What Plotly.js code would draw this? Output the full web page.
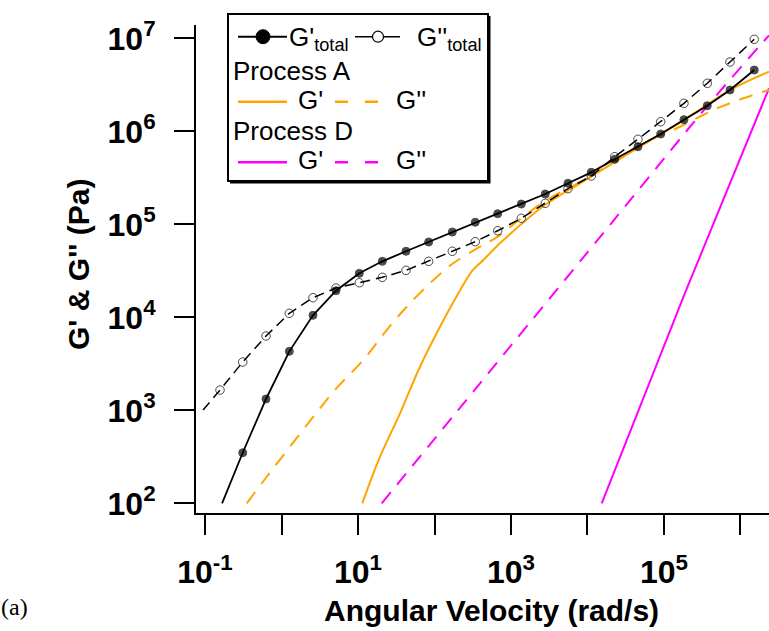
<!DOCTYPE html>
<html>
<head>
<meta charset="utf-8">
<script src="https://cdn.plot.ly/plotly-3.0.1.min.js"></script>
<style>
  html, body { margin: 0; padding: 0; background: #fff; overflow: hidden; }
  #chart { width: 769px; height: 631px; }
</style>
</head>
<body>
<div id="chart"></div>
<script>
// ---- Measured moduli (Pa) against angular velocity (rad/s) ----
// Total storage modulus G'
const omegaStorageTotal = [0.167, 0.311, 0.627, 1.265, 2.58, 5.15, 10.4, 20.8, 42.4, 83.9, 171, 341, 670, 1365, 2805, 5560, 11220, 22700, 45700, 90600, 182400, 368000, 729000, 1514000];
const gStorageTotal = [100, 350, 1324, 4305, 10520, 19320, 29720, 40000, 51290, 64570, 82600, 105200, 130000, 165200, 211800, 276100, 362200, 500000, 682300, 935400, 1334000, 1884000, 2780000, 4560000];

// Total loss modulus G''
const omegaLossTotal = [0.0942, 0.157, 0.311, 0.627, 1.265, 2.58, 5.15, 10.4, 20.8, 42.4, 83.9, 171, 341, 670, 1365, 2805, 5560, 11220, 22700, 45700, 90600, 182400, 368000, 729000, 1514000];
const gLossTotal = [1007, 1652, 3304, 6295, 11040, 16255, 20650, 23550, 26920, 31990, 40000, 51290, 65010, 85310, 116100, 168300, 241500, 330400, 533300, 820400, 1268000, 2000000, 3281000, 5559000, 9750000];

// Process A contributions
const omegaStorageA = [11.38, 19.41, 35.4, 64.6, 118, 200, 318, 435, 718, 2805, 7980, 48530, 198200, 729000, 2360000];
const gStorageA = [100, 317, 929, 2944, 7925, 17500, 32300, 41300, 62520, 162200, 276100, 682300, 1380000, 2780000, 4375000];
const omegaLossA = [0.351, 0.641, 1.291, 2.606, 5.27, 11.72, 23.71, 43.4, 87.3, 176.2, 393.6, 650, 1449, 2931, 10790, 43950, 161800, 441600, 1089000, 2360000];
const gLossA = [100, 193.2, 406.4, 853, 1740, 3475, 7295, 13000, 23230, 38110, 57410, 72400, 120800, 182400, 325100, 682300, 1119000, 1694000, 2265000, 2780000];

// Process D contributions
const omegaStorageD = [15350, 188400, 2360000];
const gStorageD = [100, 18280, 2897000];
const omegaLossD = [20.42, 393.6, 24100, 361400, 1986000, 2360000];
const gLossD = [100, 1950, 120800, 1841000, 9183000, 10720000];

// Axis ticks
const xTickVals = [0.1, 1, 10, 100, 1e3, 1e4, 1e5, 1e6];
const xTickText = ['10<sup>-1</sup>', '', '10<sup>1</sup>', '', '10<sup>3</sup>', '', '10<sup>5</sup>', ''];
const yTickVals = [1e2, 1e3, 1e4, 1e5, 1e6, 1e7];
const yTickText = ['10<sup>2</sup>', '10<sup>3</sup>', '10<sup>4</sup>', '10<sup>5</sup>', '10<sup>6</sup>', '10<sup>7</sup>'];

// ---- Styling ----
const ORANGE = '#FFA500';
const MAGENTA = '#FF00FF';
const SANS = 'Liberation Sans, Arial, sans-serif';

// Plot frame in pixels (used to place the hand-built legend and titles)
const W = 769, H = 631;
const M = { l: 196, r: 0, t: 25, b: 118 };
const PW = W - M.l - M.r, PH = H - M.t - M.b;
const fx = px => (px - M.l) / PW;
const fy = py => (H - M.b - py) / PH;

// The first point of each total curve only anchors the line at the frame edge
const leadSizes = (arr, s) => arr.map((_, i) => (i === 0 ? 0 : s));

const traces = [
  {
    x: omegaStorageD, y: gStorageD, type: 'scatter', mode: 'lines',
    line: { color: MAGENTA, width: 2 }, showlegend: false, hoverinfo: 'skip'
  },
  {
    x: omegaLossD, y: gLossD, type: 'scatter', mode: 'lines',
    line: { color: MAGENTA, width: 2, dash: '14px,10px', shape: 'spline', smoothing: 0.6 },
    showlegend: false, hoverinfo: 'skip'
  },
  {
    x: omegaStorageA, y: gStorageA, type: 'scatter', mode: 'lines',
    line: { color: ORANGE, width: 2, shape: 'spline', smoothing: 1 },
    showlegend: false, hoverinfo: 'skip'
  },
  {
    x: omegaLossA, y: gLossA, type: 'scatter', mode: 'lines',
    line: { color: ORANGE, width: 2, dash: '14px,10px', shape: 'spline', smoothing: 1 },
    showlegend: false, hoverinfo: 'skip'
  },
  {
    x: omegaLossTotal, y: gLossTotal, type: 'scatter', mode: 'lines+markers',
    line: { color: '#000', width: 1.5, dash: '10px,6px' },
    marker: { symbol: 'circle-open', color: '#000', size: leadSizes(gLossTotal, 8.5), line: { width: 1, color: '#000' } },
    showlegend: false, hoverinfo: 'skip'
  },
  {
    x: omegaStorageTotal, y: gStorageTotal, type: 'scatter', mode: 'lines+markers',
    line: { color: '#000', width: 1.8 },
    marker: { symbol: 'circle', color: '#000', size: leadSizes(gStorageTotal, 8), line: { width: 1, color: '#000' } },
    showlegend: false, hoverinfo: 'skip'
  }
];

// ---- Legend, built from shapes and text ----
const shapes = [];
const annotations = [];
const hline = (x0, x1, y, color, width, dash) => shapes.push({
  type: 'line', xref: 'paper', yref: 'paper', layer: 'above',
  x0: fx(x0), x1: fx(x1), y0: fy(y), y1: fy(y),
  line: { color, width, dash: dash || 'solid' }
});
const dot = (cx, cy, d, fill, lineW) => shapes.push({
  type: 'circle', xref: 'paper', yref: 'paper', layer: 'above',
  x0: fx(cx - d / 2), x1: fx(cx + d / 2), y0: fy(cy + d / 2), y1: fy(cy - d / 2),
  fillcolor: fill, line: { color: '#000', width: lineW }
});
const label = (text, x, y, size) => annotations.push({
  text, xref: 'paper', yref: 'paper', x: fx(x), y: fy(y),
  xanchor: 'left', yanchor: 'middle', showarrow: false,
  font: { family: SANS, size: size || 26, color: '#000' }
});

// frame with drop shadow
shapes.push({ type: 'rect', xref: 'paper', yref: 'paper', layer: 'above',
  x0: fx(230), x1: fx(490.5), y0: fy(183.5), y1: fy(16), fillcolor: '#000', line: { width: 0 } });
shapes.push({ type: 'rect', xref: 'paper', yref: 'paper', layer: 'above',
  x0: fx(228), x1: fx(488), y0: fy(181), y1: fy(14), fillcolor: '#fff', line: { color: '#000', width: 2 } });

// totals row
hline(238, 287, 36.7, '#000', 2);
dot(263, 36.7, 14, '#000', 1);
label("G'<sub>total</sub>", 287, 38.5);
hline(355, 400, 36.7, '#000', 1.5);
dot(378, 36.7, 11, '#fff', 1.2);
label("G''<sub>total</sub>", 415, 38.5);

// Process A
label('Process A', 231, 71);
hline(238, 287, 101.7, ORANGE, 2.5);
label("G'", 296, 100);
hline(335, 379, 101.7, ORANGE, 2.5, '13px,17px');
label("G''", 394, 100);

// Process D
label('Process D', 231, 130.5);
hline(238, 287, 162.3, MAGENTA, 2.5);
label("G'", 296, 160);
hline(335, 379, 162.3, MAGENTA, 2.5, '13px,17px');
label("G''", 394, 160);

// Axis titles and panel tag
annotations.push({
  text: 'Angular Velocity (rad/s)', xref: 'paper', yref: 'paper',
  x: fx(491), y: fy(610), xanchor: 'center', yanchor: 'middle', showarrow: false,
  font: { family: SANS, size: 30, weight: 700, color: '#000' }
});
annotations.push({
  text: "G' &amp; G'' (Pa)", xref: 'paper', yref: 'paper', textangle: -90,
  x: fx(78), y: fy(265), xanchor: 'center', yanchor: 'middle', showarrow: false,
  font: { family: SANS, size: 30, weight: 700, color: '#000' }
});
annotations.push({
  text: '(a)', xref: 'paper', yref: 'paper',
  x: fx(-1), y: fy(607), xanchor: 'left', yanchor: 'middle', showarrow: false,
  font: { family: 'Liberation Serif, Times New Roman, serif', size: 24, color: '#000' }
});

const axisCommon = {
  type: 'log',
  showgrid: false, zeroline: false,
  showline: true, linecolor: '#000', linewidth: 2,
  ticks: 'outside', ticklen: 20, tickwidth: 2, tickcolor: '#000',
  tickmode: 'array',
  tickfont: { family: SANS, size: 32, weight: 700, color: '#000' }
};

const layout = {
  width: W, height: H,
  margin: M,
  paper_bgcolor: '#fff', plot_bgcolor: '#fff',
  showlegend: false,
  xaxis: Object.assign({}, axisCommon, {
    range: [-1.118, 6.373], tickvals: xTickVals, ticktext: xTickText, ticklabelstandoff: 10
  }),
  yaxis: Object.assign({}, axisCommon, {
    range: [1.896, 7.143], tickvals: yTickVals, ticktext: yTickText, ticklabelstandoff: 12
  }),
  shapes, annotations
};

Plotly.newPlot('chart', traces, layout, { staticPlot: true, displayModeBar: false });
</script>
</body>
</html>
